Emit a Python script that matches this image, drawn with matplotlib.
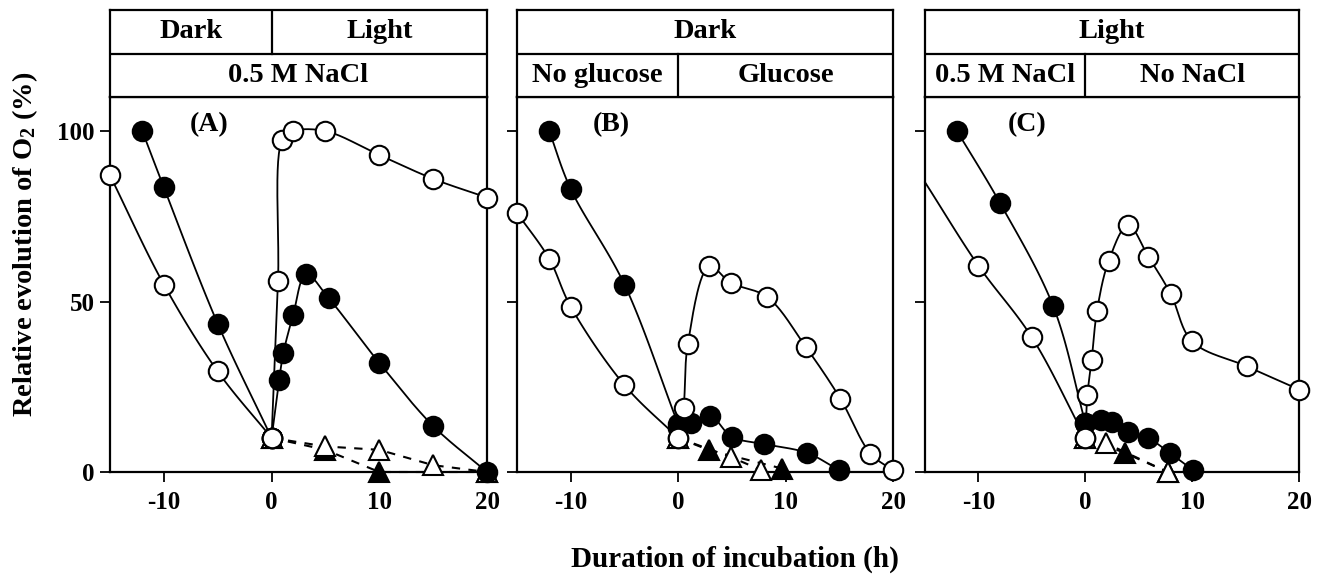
import numpy as np
import matplotlib
matplotlib.use("Agg")
import matplotlib.pyplot as plt

plt.rcParams['font.family'] = ['Liberation Serif', 'DejaVu Serif']
plt.rcParams['font.weight'] = 'bold'
plt.rcParams['mathtext.fontset'] = 'custom'
plt.rcParams['mathtext.rm'] = 'Liberation Serif:bold'
plt.rcParams['mathtext.it'] = 'Liberation Serif:bold'
plt.rcParams['mathtext.bf'] = 'Liberation Serif:bold'

# ---------------- data ----------------
# Panel A
a_dark_f_x = [-12, -10, -5, 0]
a_dark_f_y = [100, 83.5, 43.5, 10]
a_dark_o_x = [-15, -10, -5, 0]
a_dark_o_y = [87, 55, 29.5, 10]
a_light_o_x = [0, 0.6, 1.0, 2, 5, 10, 15, 20]
a_light_o_y = [10, 56, 97.5, 100, 100, 93, 86, 80.5]
a_light_f_x = [0, 0.7, 1.1, 2, 3.2, 5.3, 10, 15, 20]
a_light_f_y = [10, 27, 35, 46, 58, 51, 32, 13.5, 0]
a_tri_o_x = [0, 5, 10, 15, 20]
a_tri_o_y = [10, 7.5, 6.5, 2, 0]
a_tri_f_x = [0, 5, 10, 20]
a_tri_f_y = [10, 6.5, 0, 0]

# Panel B
b_dark_f_x = [-12, -10, -5, 0]
b_dark_f_y = [100, 83, 55, 14]
b_dark_o_x = [-15, -12, -10, -5, 0]
b_dark_o_y = [76, 62.5, 48.5, 25.5, 10]
b_glc_o_x = [0, 0.5, 0.9, 2.9, 4.9, 8.3, 11.9, 15.1, 17.9, 20]
b_glc_o_y = [10, 18.7, 37.5, 60.3, 55.5, 51.3, 36.6, 21.5, 5.4, 0.5]
b_glc_f_x = [0, 1.2, 3, 5, 8, 12, 15]
b_glc_f_y = [13, 14.5, 16.4, 10.3, 8.2, 5.6, 0.5]
b_tri_o_x = [0, 4.9, 7.7]
b_tri_o_y = [10, 4.4, 0.6]
b_tri_f_x = [0, 2.9, 9.7]
b_tri_f_y = [10, 6.4, 1]

# Panel C
c_dark_f_x = [-12, -8, -3, 0]
c_dark_f_y = [100, 79, 48.6, 14.5]
c_dark_o_x = [-15, -10, -5, 0]
c_dark_o_y = [85, 60.5, 39.5, 10]
c_light_o_x = [0, 0.2, 0.6, 1.1, 2.2, 4, 5.9, 8, 10, 15.1, 20]
c_light_o_y = [10, 22.7, 33, 47.3, 62, 72.4, 63.2, 52.2, 38.3, 31, 24.2]
c_light_f_x = [0, 1.5, 2.5, 4, 5.9, 7.9, 10.1]
c_light_f_y = [14.5, 15.3, 14.6, 11.6, 9.9, 5.6, 0.5]
c_tri_o_x = [0, 1.9, 7.7]
c_tri_o_y = [10, 8.5, 0]
c_tri_f_x = [0, 3.7, 7.7]
c_tri_f_y = [10, 5.6, 0]

x_ticks = [-10, 0, 10, 20]
x_ticklabels = ['-10', '0', '10', '20']
y_ticks = [0, 50, 100]
y_ticklabels = ['0', '50', '100']

headers = [
    # (row1 cells, row2 cells); each cell: (label, x0, x1)
    ([('Dark', -15, 0), ('Light', 0, 20)], [('0.5 M NaCl', -15, 20)]),
    ([('Dark', -15, 20)], [('No glucose', -15, 0), ('Glucose', 0, 20)]),
    ([('Light', -15, 20)], [('0.5 M NaCl', -15, 0), ('No NaCl', 0, 20)]),
]
panel_labels = ['(A)', '(B)', '(C)']


def smooth(x, y, n=30, sx=10.7, sy=3.42):
    """Centripetal Catmull-Rom curve through the data points (drawn in screen-like units)."""
    P = np.column_stack([np.asarray(x, float) * sx, np.asarray(y, float) * sy])
    P = np.vstack([2 * P[0] - P[1], P, 2 * P[-1] - P[-2]])
    out = []
    for i in range(1, len(P) - 2):
        p0, p1, p2, p3 = P[i - 1], P[i], P[i + 1], P[i + 2]
        t0 = 0.0
        t1 = t0 + max(np.linalg.norm(p1 - p0), 1e-6) ** 0.5
        t2 = t1 + max(np.linalg.norm(p2 - p1), 1e-6) ** 0.5
        t3 = t2 + max(np.linalg.norm(p3 - p2), 1e-6) ** 0.5
        t = np.linspace(t1, t2, n)[:, None]
        A1 = (t1 - t) / (t1 - t0) * p0 + (t - t0) / (t1 - t0) * p1
        A2 = (t2 - t) / (t2 - t1) * p1 + (t - t1) / (t2 - t1) * p2
        A3 = (t3 - t) / (t3 - t2) * p2 + (t - t2) / (t3 - t2) * p3
        B1 = (t2 - t) / (t2 - t0) * A1 + (t - t0) / (t2 - t0) * A2
        B2 = (t3 - t) / (t3 - t1) * A2 + (t - t1) / (t3 - t1) * A3
        C = (t2 - t) / (t2 - t1) * B1 + (t - t1) / (t2 - t1) * B2
        out.append(C)
    C = np.vstack(out)
    return C[:, 0] / sx, C[:, 1] / sy


fig = plt.figure(figsize=(13.3, 5.74), dpi=100)
W, H = 1330.0, 574.0
lefts = [110, 517, 925]
widths = [377, 376, 374]
plot_top, plot_bot = 97, 472
head_top = 10

series = [
    dict(circ=[(a_dark_f_x, a_dark_f_y, True, None), (a_dark_o_x, a_dark_o_y, False, None),
               (a_light_f_x, a_light_f_y, True, None), (a_light_o_x, a_light_o_y, False, None)],
         tri=[(a_tri_f_x, a_tri_f_y, True), (a_tri_o_x, a_tri_o_y, False)], lab=(-5.8, 102)),
    dict(circ=[(b_dark_f_x, b_dark_f_y, True, None), (b_dark_o_x, b_dark_o_y, False, None),
               (b_glc_f_x, b_glc_f_y, True, None), (b_glc_o_x, b_glc_o_y, False, None)],
         tri=[(b_tri_f_x, b_tri_f_y, True), (b_tri_o_x, b_tri_o_y, False)], lab=(-6.2, 102)),
    dict(circ=[(c_dark_f_x, c_dark_f_y, True, None), (c_dark_o_x, c_dark_o_y, False, 1),
               (c_light_f_x, c_light_f_y, True, None), (c_light_o_x, c_light_o_y, False, None)],
         tri=[(c_tri_f_x, c_tri_f_y, True), (c_tri_o_x, c_tri_o_y, False)], lab=(-5.4, 102)),
]

for i in range(3):
    l, w = lefts[i], widths[i]
    ax = fig.add_axes([l / W, (H - plot_bot) / H, w / W, (plot_bot - plot_top) / H])
    hx = fig.add_axes([l / W, (H - plot_top) / H, w / W, (plot_top - head_top) / H])
    ax.set_xlim(-15, 20)
    ax.set_ylim(0, 110)
    for s in ax.spines.values():
        s.set_linewidth(1.6)
    ax.set_xticks(x_ticks)
    ax.set_xticklabels(x_ticklabels)
    ax.set_yticks(y_ticks)
    if i == 0:
        ax.set_yticklabels(y_ticklabels)
    else:
        ax.set_yticklabels([])
    ax.tick_params(direction='out', length=7, width=1.3, labelsize=18)
    ax.tick_params(axis='x', pad=7)
    ax.tick_params(axis='y', pad=4)
    for t in ax.get_xticklabels() + ax.get_yticklabels():
        t.set_fontweight('bold')

    sp = series[i]
    # triangles (dashed)
    for tx, ty, filled in sp['tri']:
        ax.plot(tx, ty, linestyle=(0, (4, 4)), color='black', lw=1.5, zorder=2, clip_on=False)
    for tx, ty, filled in sp['tri']:
        ax.plot(tx, ty, linestyle='none', marker='^', ms=14,
                mfc='black' if filled else 'white', mec='black', mew=1.5,
                zorder=4 if filled else 5, clip_on=False)
    # circles (smooth solid lines)
    for cx, cy, filled, skip in sp['circ']:
        sx, sy = smooth(cx, cy)
        ax.plot(sx, sy, '-', color='black', lw=1.3, zorder=2, clip_on=False)
    for cx, cy, filled, skip in sp['circ']:
        mx = cx[skip:] if skip else cx
        my = cy[skip:] if skip else cy
        ax.plot(mx, my, linestyle='none', marker='o', ms=14,
                mfc='black' if filled else 'white', mec='black', mew=1.5,
                zorder=6 if filled else 7, clip_on=False)
    ax.text(sp['lab'][0], sp['lab'][1], panel_labels[i], fontsize=20, fontweight='bold',
            ha='center', va='center')

    # header boxes
    hx.set_xlim(-15, 20)
    hx.set_ylim(0, 2)
    hx.set_xticks([])
    hx.set_yticks([])
    for s in hx.spines.values():
        s.set_linewidth(1.6)
    hx.axhline(1, color='black', lw=1.6)
    row1, row2 = headers[i]
    for row, (y0, y1) in ((row1, (1, 2)), (row2, (0, 1))):
        for label, x0, x1 in row:
            hx.text((x0 + x1) / 2, (y0 + y1) / 2, label, fontsize=20.5, fontweight='bold',
                    ha='center', va='center')
            if x0 > -15:
                hx.plot([x0, x0], [y0, y1], color='black', lw=1.6)

fig.text(25 / W, (H - 244) / H, r'Relative evolution of O$_2$ (%)', rotation=90,
         fontsize=20.5, fontweight='bold', ha='center', va='center')
fig.text(735 / W, (H - 567) / H, 'Duration of incubation (h)', fontsize=21,
         fontweight='bold', ha='center', va='baseline')

fig.savefig('out.png', dpi=100)
